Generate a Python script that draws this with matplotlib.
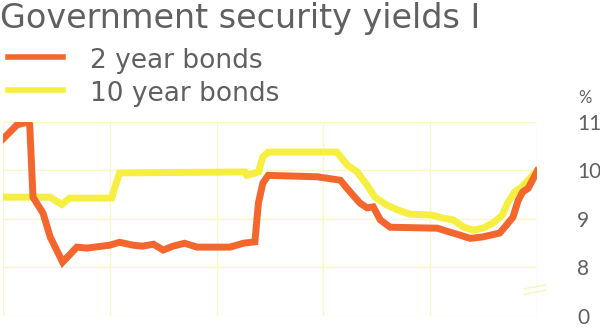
import matplotlib
matplotlib.use("Agg")
import matplotlib.pyplot as plt

# Data (x in months from start of chart, y in %)
two_year_x = [0, 1.57, 2.8, 3.0, 3.37, 4.5, 5.3, 6.7, 8.3, 9.4, 12.0, 13.1, 14.6, 15.7,
              16.9, 18.0, 19.1, 20.4, 21.8, 25.5, 27.0, 28.3, 28.7, 29.2, 29.8, 35.3,
              37.9, 38.8, 40.1, 40.9, 41.6, 42.4, 43.5, 48.8, 50.2, 51.3, 52.5, 53.9,
              55.8, 56.6, 57.3, 57.9, 58.4, 59.0, 60.0]
two_year_y = [10.65, 10.94, 11.0, 10.95, 9.45, 9.12, 8.63, 8.11, 8.42, 8.40, 8.46, 8.52,
              8.46, 8.44, 8.48, 8.36, 8.44, 8.50, 8.42, 8.42, 8.50, 8.53, 9.33, 9.74,
              9.90, 9.87, 9.80, 9.60, 9.33, 9.23, 9.25, 8.98, 8.83, 8.81, 8.73, 8.67,
              8.60, 8.63, 8.71, 8.88, 9.04, 9.39, 9.56, 9.63, 9.98]

ten_year_x = [0, 5.3, 6.6, 7.5, 12.2, 13.1, 27.2, 27.4, 28.7, 29.2, 29.8, 37.5, 38.7,
              39.8, 40.9, 41.8, 43.1, 44.3, 45.7, 48.2, 49.4, 50.6, 51.7, 52.8, 53.9,
              55.1, 56.1, 56.7, 57.5, 58.3, 60.0]
ten_year_y = [9.45, 9.45, 9.30, 9.43, 9.43, 9.95, 9.97, 9.90, 9.97, 10.28, 10.38, 10.38,
              10.11, 9.97, 9.70, 9.45, 9.29, 9.19, 9.10, 9.08, 9.02, 8.98, 8.84, 8.77,
              8.81, 8.92, 9.08, 9.33, 9.56, 9.66, 10.0]

ytick_vals = [7, 8, 9, 10, 11]
ytick_labels = ["0", "8", "9", "10", "11"]
xgrid_vals = [0, 12, 24, 36, 48, 60]

title = "Government security yields I"
series_names = ["2 year bonds", "10 year bonds"]

RED = "#f3672e"
YEL = "#f6ee40"
GRID = "#fbf6c6"
TXT = "#606060"
FONT = ["DejaVu Sans"]

fig = plt.figure(figsize=(6, 3.28), dpi=100)
ax = fig.add_axes([0.005, 0.0366, 0.89, 0.5915])
ax.set_xlim(0, 60)
ax.set_ylim(7, 11)

for v in ytick_vals:
    ax.axhline(v, color=GRID, lw=1.0, zorder=0)
for v in xgrid_vals:
    ax.axvline(v, color=GRID, lw=1.0, zorder=0)

ax.plot(ten_year_x, ten_year_y, color=YEL, lw=5, solid_joinstyle="miter", zorder=2)
ax.plot(two_year_x, two_year_y, color=RED, lw=5, solid_joinstyle="miter", zorder=3)

for s in ax.spines.values():
    s.set_visible(False)
ax.set_xticks([])
ax.yaxis.tick_right()
ax.set_yticks(ytick_vals)
ax.set_yticklabels(ytick_labels, fontsize=15, color=TXT, family="Lato")
ax.tick_params(axis="y", length=0, pad=29)

# axis break mark
for dy in (0, 0.028):
    ax.plot([0.977, 1.015], [0.112 + dy, 0.132 + dy], transform=ax.transAxes,
            color=GRID, lw=1.2, clip_on=False, zorder=1)

fig.text(585 / 600, 1 - 98 / 328, "%", fontsize=12, color=TXT, family="Lato",
         ha="center", va="center")

fig.text(0.0, 1 - 28 / 328, title, fontsize=24, color=TXT, family=FONT,
         ha="left", va="baseline")

for i, (name, col) in enumerate(zip(series_names, [RED, YEL])):
    ybase = 68 + 33 * i
    fig.lines.append(plt.Line2D([8 / 600, 63 / 600],
                                [1 - (ybase - 11) / 328, 1 - (ybase - 11) / 328],
                                transform=fig.transFigure, color=col, lw=4))
    fig.text(90 / 600, 1 - ybase / 328, name, fontsize=19, color=TXT, family=FONT,
             ha="left", va="baseline")

fig.savefig("out.png", dpi=100)
